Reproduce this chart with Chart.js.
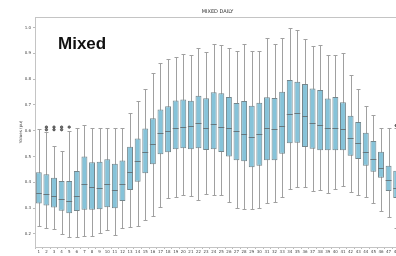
<!DOCTYPE html>
<html>
<head>
<meta charset="utf-8">
<script src="https://cdn.jsdelivr.net/npm/chart.js@4.4.1/dist/chart.umd.min.js"></script>
<style>
  html, body { margin: 0; padding: 0; background: #fff; overflow: hidden; }
  #wrap { position: relative; width: 396px; height: 256px; overflow: hidden; }
  #c { position: absolute; left: 0; top: 0; }
  #tag { position: absolute; left: 58px; top: 35px; font: bold 17px "Liberation Sans", Arial, sans-serif; line-height: 17px; color: #111; }
</style>
</head>
<body>
<div id="wrap">
  <canvas id="c" width="400" height="256"></canvas>
  <div id="tag">Mixed</div>
</div>
<script>
const categories = ["1","2","3","4","5","6","7","8","9","10","11","12","13","14","15","16",
  "17","18","19","20","21","22","23","24","25","26","27","28","29","30","31","32",
  "33","34","35","36","37","38","39","40","41","42","43","44","45","46","47","48"];

const whiskerLow = [0.230,0.222,0.219,0.200,0.187,0.187,0.192,0.192,0.205,0.215,0.196,0.222,
  0.228,0.230,0.254,0.270,0.303,0.338,0.341,0.351,0.345,0.331,0.355,0.352,
  0.351,0.325,0.299,0.295,0.295,0.299,0.319,0.325,0.344,0.375,0.383,0.383,
  0.367,0.369,0.358,0.373,0.385,0.362,0.350,0.341,0.320,0.290,0.265,0.224];
const q1 = [0.318,0.310,0.302,0.290,0.280,0.289,0.293,0.293,0.295,0.303,0.299,0.327,
  0.370,0.402,0.435,0.470,0.509,0.516,0.528,0.532,0.528,0.532,0.525,0.528,
  0.517,0.500,0.485,0.482,0.458,0.464,0.485,0.485,0.511,0.551,0.553,0.537,
  0.530,0.524,0.524,0.524,0.524,0.503,0.490,0.464,0.441,0.418,0.366,0.339];
const median = [0.357,0.355,0.347,0.335,0.326,0.348,0.392,0.382,0.378,0.392,0.369,0.392,
  0.439,0.484,0.516,0.548,0.590,0.600,0.609,0.616,0.620,0.628,0.609,0.626,
  0.616,0.609,0.600,0.587,0.574,0.588,0.609,0.606,0.618,0.664,0.668,0.656,
  0.630,0.622,0.612,0.610,0.608,0.570,0.551,0.517,0.490,0.457,0.408,0.378];
const q3 = [0.439,0.431,0.418,0.405,0.405,0.444,0.500,0.478,0.480,0.489,0.472,0.484,
  0.538,0.570,0.609,0.648,0.682,0.695,0.717,0.721,0.716,0.736,0.726,0.749,
  0.745,0.731,0.707,0.715,0.697,0.708,0.730,0.727,0.751,0.797,0.790,0.781,
  0.764,0.758,0.725,0.731,0.710,0.658,0.634,0.592,0.560,0.518,0.464,0.445];
const whiskerHigh = [0.607,0.594,0.542,0.520,0.600,0.610,0.622,0.610,0.610,0.610,0.610,0.610,
  0.668,0.715,0.761,0.825,0.862,0.877,0.887,0.896,0.893,0.919,0.904,0.935,
  0.931,0.919,0.909,0.935,0.909,0.909,0.960,0.937,0.958,1.000,0.992,0.954,
  0.927,0.933,0.893,0.895,0.900,0.818,0.760,0.697,0.660,0.610,0.610,0.610];

// outliers: category index and value
const outlierCat = [1, 1, 2, 2, 3, 3, 4, 47];
const outlierVal = [0.604, 0.614, 0.604, 0.614, 0.604, 0.614, 0.614, 0.620];

const yTicks = [0.2, 0.3, 0.4, 0.5, 0.6, 0.7, 0.8, 0.9, 1.0];

const boxParts = {
  id: "boxParts",
  beforeDatasetsDraw(chart) {
    const { ctx, scales: { x, y } } = chart;
    ctx.save();
    ctx.strokeStyle = "#a0a0a0";
    ctx.lineWidth = 1;
    categories.forEach((c, i) => {
      const px = Math.round(x.getPixelForValue(i)) + 0.5;
      const lo = Math.round(y.getPixelForValue(whiskerLow[i])) + 0.5;
      const hi = Math.round(y.getPixelForValue(whiskerHigh[i])) + 0.5;
      ctx.beginPath();
      ctx.moveTo(px, lo);
      ctx.lineTo(px, hi);
      ctx.moveTo(px - 2, lo);
      ctx.lineTo(px + 2, lo);
      ctx.moveTo(px - 2, hi);
      ctx.lineTo(px + 2, hi);
      ctx.stroke();
    });
    ctx.restore();
  },
  afterDatasetsDraw(chart) {
    const { ctx, scales: { x, y } } = chart;
    const bars = chart.getDatasetMeta(0).data;
    ctx.save();
    ctx.strokeStyle = "#66777d";
    ctx.lineWidth = 1;
    bars.forEach((bar, i) => {
      const py = Math.round(y.getPixelForValue(median[i])) + 0.5;
      ctx.beginPath();
      ctx.moveTo(bar.x - bar.width / 2, py);
      ctx.lineTo(bar.x + bar.width / 2, py);
      ctx.stroke();
    });
    ctx.strokeStyle = "#444";
    ctx.fillStyle = "#777";
    ctx.lineWidth = 0.8;
    outlierCat.forEach((ci, k) => {
      ctx.beginPath();
      ctx.arc(x.getPixelForValue(ci), y.getPixelForValue(outlierVal[k]), 1.2, 0, Math.PI * 2);
      ctx.fill();
      ctx.stroke();
    });
    ctx.restore();
  },
  afterDraw(chart) {
    const { ctx, chartArea: a } = chart;
    ctx.save();
    ctx.strokeStyle = "#c4c4c4";
    ctx.lineWidth = 1;
    ctx.strokeRect(a.left + 0.5, a.top + 0.5, a.right - a.left, a.bottom - a.top);
    ctx.fillStyle = "#333";
    ctx.font = "5px 'DejaVu Sans'";
    ctx.textAlign = "center";
    ctx.textBaseline = "middle";
    ctx.fillText("MIXED DAILY", (a.left + a.right) / 2, 12);
    ctx.restore();
  }
};

new Chart(document.getElementById("c"), {
  type: "bar",
  data: {
    labels: categories,
    datasets: [{
      data: q1.map((v, i) => [v, q3[i]]),
      backgroundColor: "rgb(134,195,217)",
      borderColor: "#74868c",
      borderWidth: 1,
      borderSkipped: false,
      barPercentage: 0.78,
      categoryPercentage: 1
    }]
  },
  options: {
    responsive: false,
    animation: false,
    layout: { padding: { top: 17, left: 0, right: 0, bottom: 0 } },
    plugins: { legend: { display: false }, tooltip: { enabled: false } },
    scales: {
      x: {
        grid: { drawOnChartArea: false, drawTicks: true, tickLength: 2, color: "#bbb" },
        border: { display: false },
        ticks: { autoSkip: false, maxRotation: 0, padding: 1, color: "#444", font: { size: 4, family: "DejaVu Sans" } },
        afterFit(scale) { scale.height = 9; }
      },
      y: {
        min: 0.149,
        max: 1.041,
        grid: { drawOnChartArea: false, drawTicks: true, tickLength: 2, color: "#bbb" },
        border: { display: false },
        afterBuildTicks(scale) { scale.ticks = yTicks.map(v => ({ value: v })); },
        ticks: { padding: 2, color: "#444", font: { size: 4, family: "DejaVu Sans" }, callback: v => Number(v).toFixed(1) },
        title: { display: true, text: "Values (pu)", color: "#444", font: { size: 4, family: "DejaVu Sans" }, padding: { top: 19, bottom: 0 } },
        afterFit(scale) { scale.width = 35; }
      }
    }
  },
  plugins: [boxParts]
});
</script>
</body>
</html>
